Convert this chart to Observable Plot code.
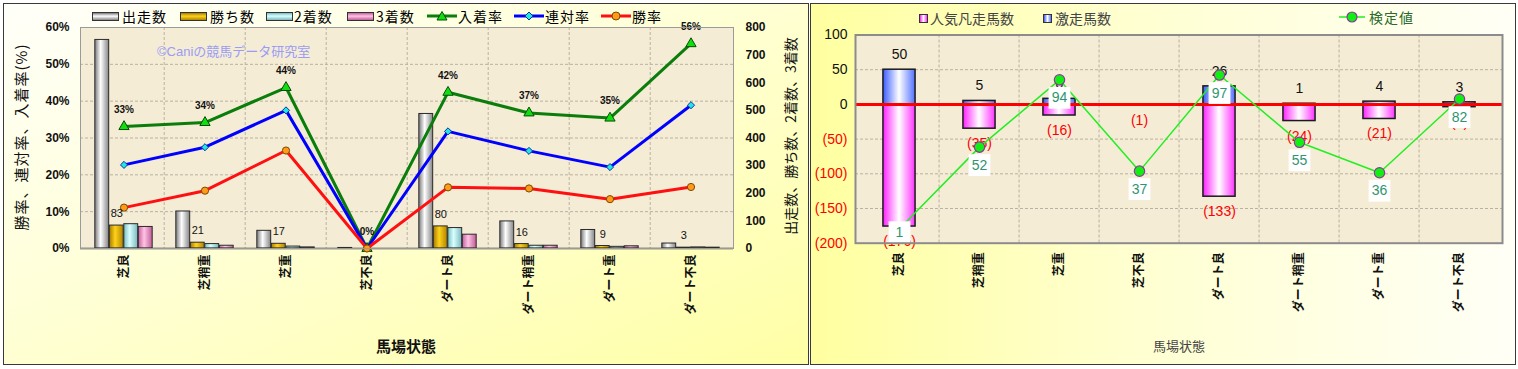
<!DOCTYPE html>
<html>
<head>
<meta charset="utf-8">
<script src="https://cdn.jsdelivr.net/npm/d3@7"></script>
<script src="https://cdn.jsdelivr.net/npm/@observablehq/plot@0.6"></script>
<style>
  body { margin:0; background:#fff; width:1518px; height:369px; overflow:hidden;
         font-family:"Liberation Sans","Noto Sans CJK JP",sans-serif; }
  .panel { position:absolute; box-sizing:border-box; border:1px solid #3a3a3a; }
  #pL { left:3px; top:3px; width:806px; height:362px;
        background:linear-gradient(to bottom right,#fffffa 0%,#ffffd6 45%,#ffffa6 100%); }
  #pR { left:810px; top:3px; width:706px; height:362px;
        background:linear-gradient(to right,#ffffa0 0%,#ffffd0 45%,#fffff6 100%); }
  .abs { position:absolute; white-space:nowrap; }
  .chart { position:absolute; top:0; }
  .chart svg { max-width:none; }
  .lg { position:absolute; font-size:14px; line-height:16px; font-family:"Noto Sans CJK JP",sans-serif; }
  .sw { position:absolute; box-sizing:border-box; border:1px solid #333; }
</style>
</head>
<body>
<div id="pL" class="panel"></div>
<div id="pR" class="panel"></div>
<div id="c1" class="chart" style="left:0;width:810px;height:369px"></div>
<div id="c2" class="chart" style="left:810px;width:708px;height:369px"></div>
<div id="overlay"></div>
<script>
// ---------------- data ----------------
const categories = ["芝良","芝稍重","芝重","芝不良","ダート良","ダート稍重","ダート重","ダート不良"];

// left chart (counts: right axis, rates: left axis)
const starts   = [755, 134, 64, 2, 487, 98, 67, 18];   // 出走数
const wins     = [83, 21, 17, 0, 80, 16, 9, 3];        // 勝ち数
const seconds  = [88, 16, 7, 0, 74, 10, 6, 4];         // 2着数
const thirds   = [78, 10, 4, 0, 50, 10, 8, 3];         // 3着数
const placeRate    = [33.1, 34.2, 43.7, 0, 42.4, 36.8, 35.4, 55.6]; // 入着率
const quinellaRate = [22.7, 27.5, 37.5, 0, 31.8, 26.5, 22.1, 38.9]; // 連対率
const winRate      = [11.1, 15.7, 26.6, 0, 16.6, 16.3, 13.4, 16.7]; // 勝率
const pctTicks   = [0, 10, 20, 30, 40, 50, 60];
const countTicks = [0, 100, 200, 300, 400, 500, 600, 700, 800];

// right chart
const hotRuns    = [50, 5, 8, 0, 26, 1, 4, 3];          // 激走馬数
const favFails   = [176, 35, 16, 1, 133, 24, 21, 4];    // 人気凡走馬数
const testValues = [1, 52, 94, 37, 97, 55, 36, 82];     // 検定値
const rightTicksPos = [0, 50, 100];
const rightTicksNeg = [-50, -100, -150, -200];

// ---------------- helpers ----------------
const FONT = '"Liberation Sans","Noto Sans CJK JP",sans-serif';
const NS = "http://www.w3.org/2000/svg";
function addGradients(svg, defsSpec) {
  const defs = document.createElementNS(NS, "defs");
  for (const [id, stops] of defsSpec) {
    const g = document.createElementNS(NS, "linearGradient");
    g.setAttribute("id", id); g.setAttribute("x1", "0"); g.setAttribute("x2", "1");
    g.setAttribute("y1", "0"); g.setAttribute("y2", "0");
    for (const [off, col] of stops) {
      const s = document.createElementNS(NS, "stop");
      s.setAttribute("offset", off); s.setAttribute("stop-color", col);
      g.appendChild(s);
    }
    defs.appendChild(g);
  }
  svg.insertBefore(defs, svg.firstChild);
}

// ---------------- left chart ----------------
const PCT_MAX = 60, COUNT_MAX = 800, K = PCT_MAX / COUNT_MAX;
const L = {w: 810, h: 369, ml: 80, mr: 77, mt: 27, mb: 121};
const BW1 = (L.w - L.ml - L.mr) / categories.length;
const BARW = 14.5, GOFF = (BW1 - 4 * BARW) / 2;
const rowsL = categories.map((c, i) => ({
  c, starts: starts[i], wins: wins[i], seconds: seconds[i], thirds: thirds[i],
  place: placeRate[i], quin: quinellaRate[i], win: winRate[i]
}));
const barSeries = [["starts", "url(#gGrey)"], ["wins", "url(#gGold)"], ["seconds", "url(#gCyan)"], ["thirds", "url(#gPink)"]];
const grid = {stroke: "#b9b2a2", strokeDasharray: "3,2", strokeWidth: 1};

const left = Plot.plot({
  width: L.w, height: L.h,
  marginLeft: L.ml, marginRight: L.mr, marginTop: L.mt, marginBottom: L.mb,
  style: {background: "transparent", fontFamily: FONT, overflow: "visible"},
  x: {type: "band", domain: categories, padding: 0},
  y: {domain: [0, PCT_MAX]},
  marks: [
    Plot.frame({fill: "#f5ecd6", stroke: "none"}),
    Plot.ruleY(pctTicks.slice(1, -1), grid),
    Plot.ruleX(categories.slice(1), {x: d => d, dx: -BW1 / 2, ...grid}),
    ...barSeries.map(([key, fill], j) => Plot.barY(rowsL, {
      x: "c", y1: 0, y2: d => d[key] * K, fill, stroke: "#2a2a2a", strokeWidth: 1,
      insetLeft: GOFF + j * BARW, insetRight: BW1 - GOFF - (j + 1) * BARW
    })),
    Plot.ruleY([0], {stroke: "#333", strokeWidth: 1.5}),
    Plot.line(rowsL, {x: "c", y: "place", stroke: "#0a7d0a", strokeWidth: 3}),
    Plot.dot(rowsL, {x: "c", y: "place", symbol: "triangle", r: 3.8, fill: "#11dd11", stroke: "#064d06", strokeWidth: 1}),
    Plot.line(rowsL, {x: "c", y: "quin", stroke: "#0000ff", strokeWidth: 3}),
    Plot.dot(rowsL, {x: "c", y: "quin", symbol: "diamond2", r: 3.2, fill: "#22e5e5", stroke: "#1030a0", strokeWidth: 1}),
    Plot.line(rowsL, {x: "c", y: "win", stroke: "#ff1010", strokeWidth: 3}),
    Plot.dot(rowsL, {x: "c", y: "win", r: 3.6, fill: "#ff9a1a", stroke: "#7a4a00", strokeWidth: 1}),
    Plot.text(rowsL, {x: "c", y: "place", text: d => Math.round(d.place) + "%", dy: -17,
      fontSize: 10, fontWeight: "bold", fill: "#111"}),
    Plot.text(rowsL.filter(d => d.wins > 0), {x: "c", y: d => d.wins * K, text: d => String(d.wins),
      dx: -BARW / 2, dy: -12, fontSize: 11, fill: "#111"}),
    Plot.frame({stroke: "#9a9a9a", strokeWidth: 1}),
    Plot.axisY(pctTicks, {anchor: "left", tickFormat: d => d + "%", tickSize: 0, tickPadding: 11,
      fontSize: 12, fontWeight: "bold", fill: "#111", label: null}),
    Plot.axisY(countTicks.map(v => v * K), {anchor: "right", tickFormat: d => String(Math.round(d / K)),
      tickSize: 0, tickPadding: 12, fontSize: 12, fontWeight: "bold", fill: "#111", label: null}),
    Plot.axisX({tickRotate: -90, tickSize: 0, tickPadding: 6, fontSize: 12, fontWeight: "bold",
      fill: "#111", label: null})
  ]
});
addGradients(left, [
  ["gGrey", [["0", "#7a7a7a"], ["0.42", "#ffffff"], ["1", "#858585"]]],
  ["gGold", [["0", "#a87a00"], ["0.42", "#ffd21a"], ["1", "#b08400"]]],
  ["gCyan", [["0", "#79bfc4"], ["0.42", "#d9ffff"], ["1", "#7ab8c0"]]],
  ["gPink", [["0", "#c85f9f"], ["0.42", "#ffc4e4"], ["1", "#c25c98"]]]
]);
document.getElementById("c1").appendChild(left);

// ---------------- right chart ----------------
const R = {w: 708, h: 369, ml: 45, mr: 16, mt: 34.5, mb: 126.3};
const BW2 = (R.w - R.ml - R.mr) / categories.length;
const RBAR = 33, RIN = (BW2 - RBAR) / 2;
const Y_DOMAIN = [-200, 100];
const TEST_DOMAIN = [-8, 122];   // secondary (hidden) axis for 検定値
const toY = v => Y_DOMAIN[0] + (v - TEST_DOMAIN[0]) * (Y_DOMAIN[1] - Y_DOMAIN[0]) / (TEST_DOMAIN[1] - TEST_DOMAIN[0]);
const PXU = (R.h - R.mt - R.mb) / (Y_DOMAIN[1] - Y_DOMAIN[0]);
const rowsR = categories.map((c, i) => ({c, hot: hotRuns[i], fail: favFails[i], test: testValues[i], ty: toY(testValues[i])}));
const labelY = d => Math.max(d.ty - 18 / PXU, Y_DOMAIN[0] + 11 / PXU);

const right = Plot.plot({
  width: R.w, height: R.h,
  marginLeft: R.ml, marginRight: R.mr, marginTop: R.mt, marginBottom: R.mb,
  style: {background: "transparent", fontFamily: FONT, overflow: "visible"},
  x: {type: "band", domain: categories, padding: 0},
  y: {domain: Y_DOMAIN},
  marks: [
    Plot.frame({fill: "#f5ecd6", stroke: "none"}),
    Plot.ruleY([50, -50, -100, -150], grid),
    Plot.ruleX(categories.slice(1), {x: d => d, dx: -BW2 / 2, ...grid}),
    Plot.barY(rowsR.filter(d => d.hot > 0), {x: "c", y1: 0, y2: "hot", fill: "url(#gBlue)", stroke: "#1a1a1a",
      strokeWidth: 1.5, insetLeft: RIN, insetRight: RIN}),
    Plot.barY(rowsR, {x: "c", y1: 0, y2: d => -d.fail, fill: "url(#gMag)", stroke: "#1a1a1a",
      strokeWidth: 1.5, insetLeft: RIN, insetRight: RIN}),
    Plot.ruleY([0], {stroke: "#ff0000", strokeWidth: 3}),
    Plot.text(rowsR.filter(d => d.hot > 0), {x: "c", y: "hot", text: d => String(d.hot), dy: -15,
      fontSize: 14, fill: "#111"}),
    Plot.text(rowsR, {x: "c", y: d => -d.fail, text: d => `(${d.fail})`, dy: 15, fontSize: 14, fill: "#ff0000"}),
    Plot.line(rowsR, {x: "c", y: "ty", stroke: "#22ee22", strokeWidth: 1.5}),
    Plot.dot(rowsR, {x: "c", y: "ty", r: 5.2, fill: "#11ee11", stroke: "#8a3a9a", strokeWidth: 1.2}),
    Plot.dot(rowsR, {x: "c", y: labelY, symbol: "square", r: 12.3, fill: "#ffffff", stroke: "none"}),
    Plot.text(rowsR, {x: "c", y: labelY, text: d => String(d.test), fontSize: 14, fill: "#2f9470"}),
    Plot.frame({stroke: "#8c8c8c", strokeWidth: 2}),
    Plot.axisY(rightTicksPos, {anchor: "left", tickSize: 0, tickPadding: 8, fontSize: 14, fill: "#111", label: null}),
    Plot.axisY(rightTicksNeg, {anchor: "left", tickFormat: d => `(${-d})`, tickSize: 0, tickPadding: 8,
      fontSize: 14, fill: "#ff0000", label: null}),
    Plot.axisX({tickRotate: -90, tickSize: 0, tickPadding: 9, fontSize: 12, fontWeight: "bold",
      fill: "#111", label: null})
  ]
});
addGradients(right, [
  ["gBlue", [["0", "#3b5cff"], ["0.5", "#ffffff"], ["1", "#5270ff"]]],
  ["gMag", [["0", "#ff22ff"], ["0.5", "#ffffff"], ["1", "#ff33ff"]]]
]);
document.getElementById("c2").appendChild(right);

// ---------------- titles / legends (HTML) ----------------
const ov = document.getElementById("overlay");
function add(html) { ov.insertAdjacentHTML("beforeend", html); }
function barSw(x, y, bg) { add(`<div class="sw" style="left:${x}px;top:${y}px;width:27px;height:9px;background:${bg}"></div>`); }
function lineSw(x, y, color, marker) {
  add(`<svg class="abs" style="left:${x}px;top:${y - 7}px" width="30" height="14">
    <line x1="0" y1="7" x2="30" y2="7" stroke="${color}" stroke-width="3"/>${marker}</svg>`);
}
function txt(x, y, s, style = "") { add(`<div class="lg" style="left:${x}px;top:${y - 8}px;${style}">${s}</div>`); }

// left legend
const vg = c => `linear-gradient(${c})`;
barSw(92, 12, vg("#7a7a7a,#ffffff 45%,#858585")); txt(122, 16, "出走数", "letter-spacing:1px");
barSw(180, 12, vg("#a87a00,#ffd21a 45%,#b08400")); txt(210, 16, "勝ち数", "letter-spacing:1px");
barSw(266, 12, vg("#79bfc4,#d9ffff 45%,#7ab8c0")); txt(294, 16, "2着数", "letter-spacing:1px");
barSw(347, 12, vg("#c85f9f,#ffc4e4 45%,#c25c98")); txt(376, 16, "3着数", "letter-spacing:1px");
lineSw(427, 16, "#0a7d0a", `<path d="M15,2.5 L20,11 L10,11 Z" fill="#11dd11" stroke="#064d06"/>`);
txt(458, 16, "入着率", "letter-spacing:1px");
lineSw(514, 16, "#0000ff", `<path d="M15,3 L19,7 L15,11 L11,7 Z" fill="#22e5e5" stroke="#1030a0"/>`);
txt(545, 16, "連対率", "letter-spacing:1px");
lineSw(601, 16, "#ff1010", `<circle cx="15" cy="7" r="4" fill="#ff9a1a" stroke="#7a4a00"/>`);
txt(632, 16, "勝率", "letter-spacing:1px");

// watermark
add(`<div class="abs" style="left:157px;top:41px;font-size:13px;color:#9a9cf5;font-family:'Liberation Sans','Noto Sans CJK JP',sans-serif">©Caniの競馬データ研究室</div>`);

// left axis titles
add(`<div class="abs" style="left:20px;top:137px;transform:translate(-50%,-50%) rotate(-90deg);font-size:15px;letter-spacing:1px;color:#111;font-family:'Noto Sans CJK JP',sans-serif">勝率、連対率、入着率(%)</div>`);
add(`<div class="abs" style="left:790px;top:136px;transform:translate(-50%,-50%) rotate(-90deg);font-size:14px;color:#111;font-family:'Noto Sans CJK JP',sans-serif">出走数、勝ち数、2着数、3着数</div>`);
add(`<div class="abs" style="left:406px;top:345px;transform:translate(-50%,-50%);font-size:15px;font-weight:bold;color:#111;font-family:'Noto Sans CJK JP',sans-serif">馬場状態</div>`);

// right legend
add(`<div class="sw" style="left:919px;top:14px;width:9px;height:9px;background:linear-gradient(to right,#ff22ff,#fff,#ff33ff)"></div>`);
txt(930, 18, "人気凡走馬数", "color:#444");
add(`<div class="sw" style="left:1043px;top:14px;width:9px;height:9px;background:linear-gradient(to right,#3b5cff,#fff,#5270ff)"></div>`);
txt(1055, 18, "激走馬数", "color:#444");
add(`<svg class="abs" style="left:1339px;top:10px" width="26" height="14">
  <line x1="0" y1="7" x2="26" y2="7" stroke="#22ee22" stroke-width="1.5"/>
  <circle cx="13" cy="7" r="5" fill="#11ee11" stroke="#8a3a9a" stroke-width="1.2"/></svg>`);
txt(1369, 17, "検定値", "color:#2a6a2a;letter-spacing:1px");
add(`<div class="abs" style="left:1179px;top:345px;transform:translate(-50%,-50%);font-size:13px;color:#444;font-family:'Noto Sans CJK JP',sans-serif">馬場状態</div>`);
</script>
</body>
</html>
